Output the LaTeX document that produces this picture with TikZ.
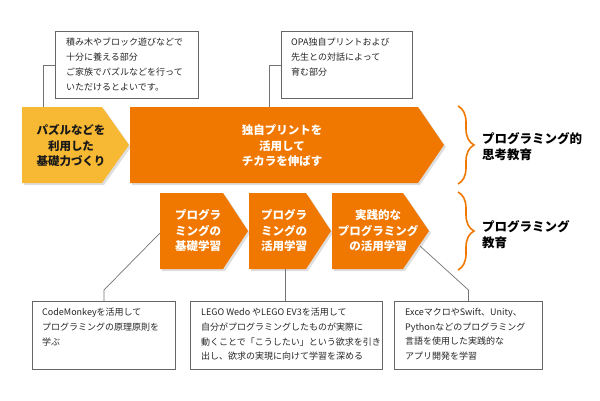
\documentclass[tikz,border=0pt]{standalone}
\usepackage{fontspec}
\setmainfont{Noto Sans CJK JP}
\usetikzlibrary{decorations.pathreplacing}
\definecolor{opaorange}{RGB}{240,120,0}
\definecolor{opayellow}{RGB}{247,184,51}
\tikzset{
  note/.style={draw=black!60, line width=0.9pt, fill=white, anchor=north west, inner sep=0pt},
  notetext/.style={anchor=north west, align=left, inner sep=0pt, text=black!85,
    font=\fontsize{9}{14.7}\selectfont},
  chevtext/.style={align=center, inner sep=0pt, text=white,
    font=\bfseries\fontsize{11.5}{15.5}\selectfont},
  sidetext/.style={anchor=west, align=left, inner sep=0pt, text=black,
    font=\bfseries\fontsize{12.5}{16}\selectfont},
  link/.style={draw=black!55, line width=0.7pt},
  shade/.style={fill=black!13},
  edubrace/.style={draw=opaorange, line width=1.6pt,
    decorate, decoration={brace, amplitude=16pt, aspect=0.5}}
}
\begin{document}
\begin{tikzpicture}[x=1pt,y=-1pt]
    \useasboundingbox (0,0) rectangle (600,400);

    % shadows
    \fill[shade] (24,109) -- (104,109) -- (131,147) -- (104,185) -- (24,185) -- cycle;
    \fill[shade] (132,109) -- (420,109) -- (446,147) -- (420,185) -- (132,185) -- cycle;
    \fill[shade] (162,195) -- (225,195) -- (250,233) -- (225,271) -- (162,271) -- cycle;
    \fill[shade] (251,195) -- (308,195) -- (333,233) -- (308,271) -- (251,271) -- cycle;
    \fill[shade] (334,195) -- (405,195) -- (431,233) -- (405,271) -- (334,271) -- cycle;

    % upper row
    \fill[opayellow] (22,107) -- (102,107) -- (129,145) -- (102,183) -- (22,183) -- cycle;
    \fill[opaorange] (130,107) -- (418,107) -- (444,145) -- (418,183) -- (130,183) -- cycle;
    \node[chevtext, text=black!90] (kiso) at (71,146) {パズルなどを\\利用した\\基礎力づくり};
    \node[chevtext] (print) at (282,146) {独自プリントを\\活用して\\チカラを伸ばす};

    % lower row
    \fill[opaorange] (160,193) -- (223,193) -- (248,231) -- (223,269) -- (160,269) -- cycle;
    \fill[opaorange] (249,193) -- (306,193) -- (331,231) -- (306,269) -- (249,269) -- cycle;
    \fill[opaorange] (332,193) -- (403,193) -- (429,231) -- (403,269) -- (332,269) -- cycle;
    \node[chevtext] (basic) at (198,231) {プログラ\\ミングの\\基礎学習};
    \node[chevtext] (apply) at (284,231) {プログラ\\ミングの\\活用学習};
    \node[chevtext] (practice) at (378,231) {実践的な\\プログラミング\\の活用学習};

    % braces
    \draw[edubrace] (458,106) -- (458,184);
    \draw[edubrace] (458,192) -- (458,270);
    \node[sidetext] (shiko) at (482,147) {プログラミング的\\思考教育};
    \node[sidetext] (kyoiku) at (482,235) {プログラミング\\教育};

    % notes
    \node[note, minimum width=143, minimum height=67] (n1) at (55,31) {};
    \node[notetext] at (66,38) {積み木やブロック遊びなどで\\十分に養える部分\\ご家族でパズルなどを行って\\いただけるとよいです。};
    \node[note, minimum width=131, minimum height=67] (n2) at (281,31) {};
    \node[notetext] at (291,38) {OPA独自プリントおよび\\先生との対話によって\\育む部分};
    \node[note, minimum width=143, minimum height=68] (b1) at (32,301) {};
    \node[notetext] at (42,308) {CodeMonkeyを活用して\\プログラミングの原理原則を\\学ぶ};
    \node[note, minimum width=192, minimum height=68] (b2) at (190,301) {};
    \node[notetext] at (201,308) {LEGO Wedo やLEGO EV3を活用して\\自分がプログラミングしたものが実際に\\動くことで「こうしたい」という欲求を引き\\出し、欲求の実現に向けて学習を深める};
    \node[note, minimum width=148, minimum height=68] (b3) at (394,301) {};
    \node[notetext] at (405,308) {ExceマクロやSwift、Unity、\\Pythonなどのプログラミング\\言語を使用した実践的な\\アプリ開発を学習};

    % connectors
    \coordinate (c1) at (43,107);
    \coordinate (c2) at (269,107);
    \coordinate (c3) at (160,233);
    \coordinate (c4) at (285,269);
    \coordinate (c5) at (420,246);
    \draw[link] (n1.west) -| (c1);
    \draw[link] (n2.west) -| (c2);
    \draw[link] (b1.north) -- ++(0,-11) -- (c3);
    \draw[link] (b2.north -| c4) -- (c4);
    \draw[link] (b3.north) -- ++(0,-11) -- (c5);
\end{tikzpicture}
\end{document}
